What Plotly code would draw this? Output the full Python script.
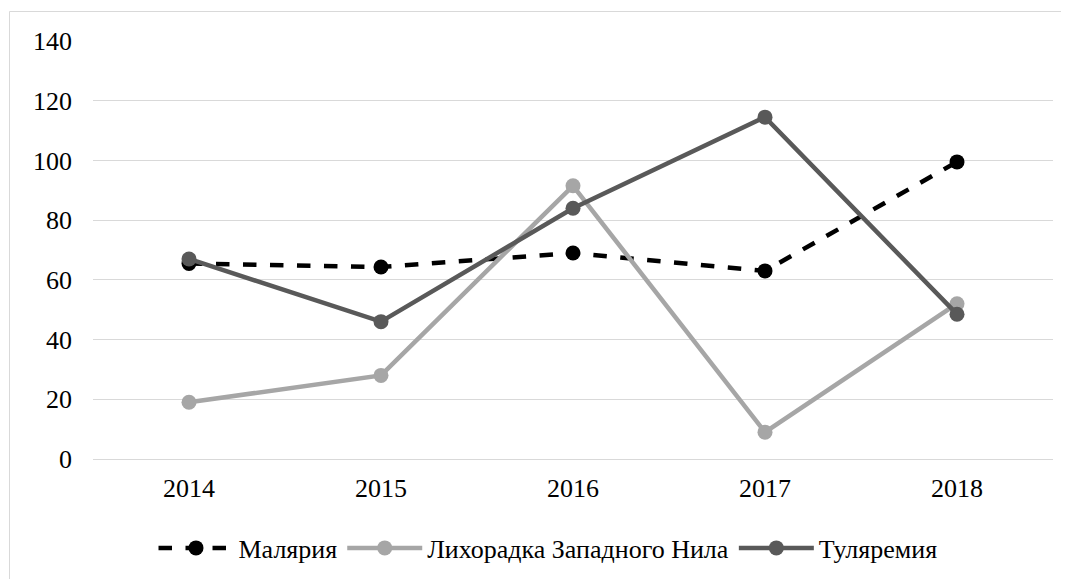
import plotly.graph_objects as go

years = ["2014", "2015", "2016", "2017", "2018"]
malaria = [65.5, 64.3, 69, 63, 99.5]
wnv = [19, 28, 91.5, 9, 52]
tularemia = [67, 46, 84, 114.5, 48.5]

FONT = "Liberation Serif, DejaVu Serif, serif"

# page body has an 8px margin; work in window pixels and convert
OFF = 8
W, H = 1069 - OFF, 579 - OFF
L = 93 - OFF
T = 41 - OFF
R = W - (1053 - OFF)
B = H - (459 - OFF)
pw, ph = W - L - R, H - T - B

fig = go.Figure()
fig.add_trace(go.Scatter(x=years, y=malaria, name="Малярия", mode="lines+markers",
                         line=dict(color="#000000", width=4.5, dash="dash"),
                         marker=dict(size=15, color="#000000")))
fig.add_trace(go.Scatter(x=years, y=wnv, name="Лихорадка Западного Нила", mode="lines+markers",
                         line=dict(color="#a6a6a6", width=4.5),
                         marker=dict(size=15, color="#a6a6a6")))
fig.add_trace(go.Scatter(x=years, y=tularemia, name="Туляремия", mode="lines+markers",
                         line=dict(color="#595959", width=4.5),
                         marker=dict(size=15, color="#595959")))

def px2paper_x(p):
    return (p - OFF - L) / pw

def px2paper_y(p):
    return (H - B - (p - OFF)) / ph

fig.add_shape(type="rect", xref="paper", yref="paper",
              x0=px2paper_x(9.5), x1=px2paper_x(1061.5),
              y0=px2paper_y(620), y1=px2paper_y(11.5),
              line=dict(color="#d9d9d9", width=1), fillcolor="rgba(0,0,0,0)", layer="below")

fig.update_layout(
    width=W, height=H,
    margin=dict(l=L, r=R, t=T, b=B, autoexpand=False),
    paper_bgcolor="white", plot_bgcolor="white",
    font=dict(family=FONT, size=26, color="#000000"),
    showlegend=True,
    legend=dict(orientation="h", x=px2paper_x(548), xanchor="center", y=px2paper_y(548), yanchor="middle",
                font=dict(family=FONT, size=26, color="#000000"), tracegroupgap=0, itemwidth=75),
    xaxis=dict(type="category", showgrid=False, showline=True, linecolor="#d9d9d9", linewidth=1,
               ticks="", tickfont=dict(family=FONT, size=26), range=[-0.5, 4.5], ticklabelstandoff=6),
    yaxis=dict(range=[0, 140], dtick=20, showgrid=True, gridcolor="#d9d9d9", gridwidth=1,
               zeroline=False, showline=False, ticks="", tickfont=dict(family=FONT, size=26),
               ticklabelstandoff=20),
)

fig.write_html("out.html")
